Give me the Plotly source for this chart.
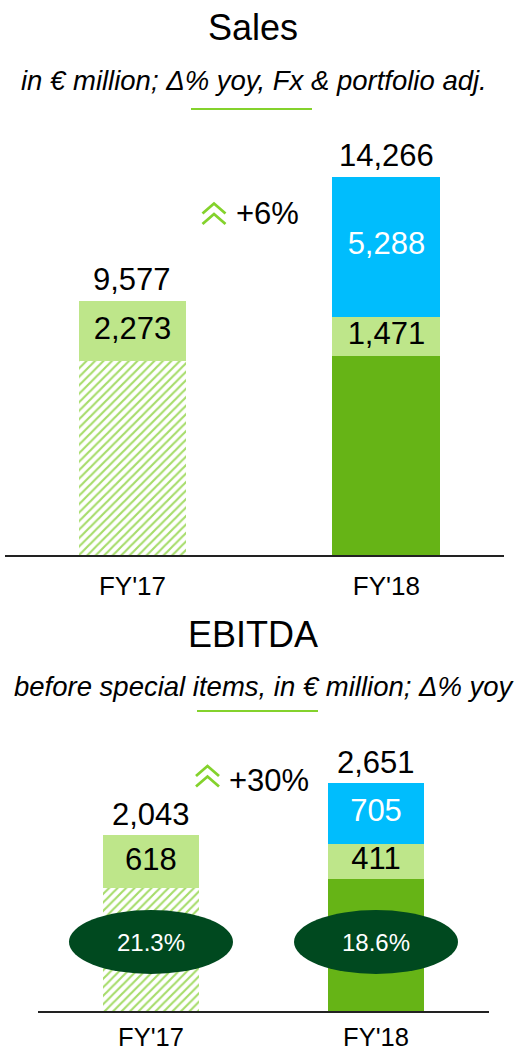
import plotly.graph_objects as go

W, H = 525, 1055

# ---------------- data ----------------
categories = ["FY'17", "FY'18"]

sales_base = [7304, 7507]          # organic / comparable base
sales_portfolio = [2273, 1471]     # light green segment
sales_acquired = [0, 5288]         # blue segment
sales_total = [9577, 14266]
sales_growth = "+6%"

ebitda_base = [1425, 1535]
ebitda_portfolio = [618, 411]
ebitda_acquired = [0, 705]
ebitda_total = [2043, 2651]
ebitda_margin = ["21.3%", "18.6%"]
ebitda_growth = "+30%"

# ---------------- style ----------------
FONT = "Liberation Sans, Arial, sans-serif"
HATCH = "#A6DC6A"
DARK = "#66B416"
LIGHT = "#BEE68A"
BLUE = "#00BDFD"
ELLIPSE = "#00491F"
ACCENT = "#84D22C"
AXIS = "#222222"


def py(p):
    return 1 - p / H


def px(p):
    return p / W


fig = go.Figure()


def add_stack(base, portfolio, acquired, total, xa, ya):
    fig.add_trace(go.Bar(
        x=categories, y=base, xaxis=xa, yaxis=ya,
        marker=dict(color=[HATCH, DARK], line=dict(width=0),
                    pattern=dict(shape=["/", ""], fgcolor=[HATCH, DARK],
                                 bgcolor=["white", DARK], size=6,
                                 solidity=0.36, fillmode="replace")),
        hoverinfo="skip", showlegend=False))
    fig.add_trace(go.Bar(
        x=categories, y=portfolio, xaxis=xa, yaxis=ya,
        marker=dict(color=LIGHT, line=dict(width=0)),
        hoverinfo="skip", showlegend=False))
    fig.add_trace(go.Bar(
        x=categories, y=acquired, xaxis=xa, yaxis=ya,
        marker=dict(color=BLUE, line=dict(width=0)),
        hoverinfo="skip", showlegend=False))
    # segment labels at the middle of each segment
    mid_p = [b + p / 2 for b, p in zip(base, portfolio)]
    fig.add_trace(go.Scatter(
        x=categories, y=mid_p, xaxis=xa, yaxis=ya, mode="text",
        text=[f"{v:,}" for v in portfolio],
        textfont=dict(family=FONT, size=31, color="black"),
        hoverinfo="skip", showlegend=False))
    xs = [c for c, a in zip(categories, acquired) if a > 0]
    mid_a = [b + p + a / 2 for b, p, a in zip(base, portfolio, acquired) if a > 0]
    fig.add_trace(go.Scatter(
        x=xs, y=mid_a, xaxis=xa, yaxis=ya, mode="text",
        text=[f"{a:,}" for a in acquired if a > 0],
        textfont=dict(family=FONT, size=31, color="white"),
        hoverinfo="skip", showlegend=False))
    # totals above bars
    for c, t in zip(categories, total):
        fig.add_annotation(x=c, y=t, xref=xa, yref=ya, text=f"{t:,}",
                           showarrow=False, yanchor="middle", yshift=21,
                           font=dict(family=FONT, size=31, color="black"))


add_stack(sales_base, sales_portfolio, sales_acquired, sales_total, "x", "y")
add_stack(ebitda_base, ebitda_portfolio, ebitda_acquired, ebitda_total, "x2", "y2")

shapes = []
annotations = []

# titles
annotations += [
    dict(text="Sales", x=px(253), y=py(27), font=dict(size=36)),
    dict(text="<i>in € million; Δ% yoy, Fx & portfolio adj.</i>", x=px(253.5), y=py(80),
         font=dict(size=27.5)),
    dict(text="EBITDA", x=px(253), y=py(634), font=dict(size=36)),
    dict(text="<i>before special items, in € million; Δ% yoy</i>", x=px(264.5), y=py(686),
         font=dict(size=27.5)),
    dict(text=sales_growth, x=px(267), y=py(214), font=dict(size=31)),
    dict(text=ebitda_growth, x=px(269), y=py(780), font=dict(size=31)),
]
for a in annotations:
    a.update(xref="paper", yref="paper", showarrow=False, xanchor="center",
             yanchor="middle")
    a["font"].update(family=FONT, color="black")

# accent lines under subtitles
for x0, x1, yy in [(191, 312, 109), (197, 318, 711)]:
    shapes.append(dict(type="line", xref="paper", yref="paper",
                       x0=px(x0), x1=px(x1), y0=py(yy), y1=py(yy),
                       line=dict(color=ACCENT, width=2)))

# double chevron icons
CHEV = "M -11.5,-0.5 L 0,9.5 L 11.5,-0.5 M -11.5,-11 L 0,-1 L 11.5,-11"
for cx, cy in [(214, 213), (207.5, 775.5)]:
    shapes.append(dict(type="path", xref="paper", yref="paper",
                       xsizemode="pixel", ysizemode="pixel",
                       xanchor=px(cx), yanchor=py(cy), path=CHEV,
                       line=dict(color=ACCENT, width=2.8)))

# EBITDA margin ellipses
for c, m in zip(categories, ebitda_margin):
    i = categories.index(c)
    shapes.append(dict(type="circle", xref="x2", yref="paper",
                       xsizemode="pixel", ysizemode="pixel",
                       xanchor=i, x0=-82, x1=82,
                       yanchor=py(942), y0=-32, y1=32,
                       fillcolor=ELLIPSE, line=dict(width=0), layer="above"))
    fig.add_annotation(x=c, xref="x2", y=py(942), yref="paper", text=m,
                       showarrow=False, yanchor="middle",
                       font=dict(family=FONT, size=24, color="white"))

for a in annotations:
    fig.add_annotation(**a)

axis_common = dict(showline=True, linecolor=AXIS, linewidth=1.6, ticks="",
                   showgrid=False, zeroline=False, fixedrange=True,
                   automargin=False)

sales_scale = 0.02653   # px per unit
ebitda_scale = 0.0860

fig.update_layout(
    width=W, height=H, margin=dict(l=0, r=0, t=0, b=0, autoexpand=False),
    paper_bgcolor="white", plot_bgcolor="white",
    barmode="stack", bargap=0.575,
    showlegend=False,
    xaxis=dict(domain=[px(5), px(504)], range=[-0.502, 1.463], anchor="y",
               type="category", ticklabelstandoff=7,
               tickfont=dict(family=FONT, size=26, color="black"),
               **axis_common),
    yaxis=dict(domain=[py(555), py(120)], range=[0, (555 - 120) / sales_scale],
               visible=False, fixedrange=True, anchor="x", automargin=False),
    xaxis2=dict(domain=[px(38), px(489)], range=[-0.502, 1.502], anchor="y2",
                type="category", ticklabelstandoff=3,
                tickfont=dict(family=FONT, size=25.5, color="black"),
                **axis_common),
    yaxis2=dict(domain=[py(1011), py(730)], range=[0, (1011 - 730) / ebitda_scale],
                visible=False, fixedrange=True, anchor="x2", automargin=False),
    shapes=shapes,
)

fig.write_html("out.html",
               config={"displayModeBar": False, "staticPlot": True},
               post_script="document.body.style.margin='0px';"
                           "document.body.style.overflow='hidden';")
